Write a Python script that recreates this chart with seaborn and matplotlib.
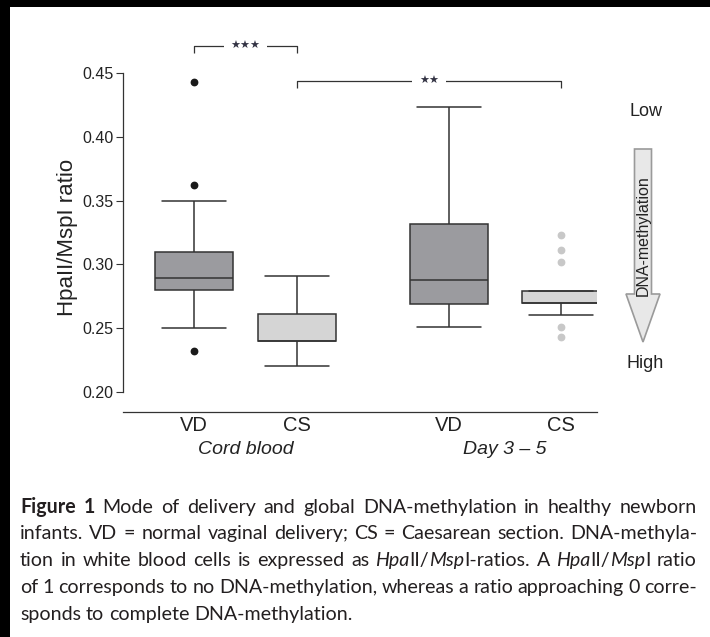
import re
import numpy as np
import pandas as pd
import matplotlib
matplotlib.use("Agg")
import matplotlib.pyplot as plt
import matplotlib.patches as mpatches
from matplotlib.transforms import IdentityTransform
import seaborn as sns

# ---------------- data ----------------
delivery = ["VD", "CS", "VD", "CS"]
timepoint = ["Cord blood", "Cord blood", "Day 3 \u2013 5", "Day 3 \u2013 5"]
cord_vd = [0.2324, 0.250, 0.270, 0.280, 0.283, 0.286, 0.289, 0.295, 0.300, 0.310, 0.350, 0.362, 0.4427]
cord_cs = [0.220, 0.230, 0.240, 0.240, 0.240, 0.250, 0.261, 0.275, 0.291]
day_vd = [0.2507, 0.260, 0.2692, 0.278, 0.2878, 0.300, 0.332, 0.380, 0.4236]
day_cs = [0.2429, 0.2512, 0.2603, 0.2695, 0.2695, 0.2695, 0.2695, 0.272, 0.276, 0.2794, 0.3019, 0.311, 0.323]
positions = [1.0, 2.0, 3.476, 4.563]
yticks = [0.20, 0.25, 0.30, 0.35, 0.40, 0.45]
brackets = [("\u2605\u2605\u2605", 0, 1, 0.4712), ("\u2605\u2605", 1, 3, 0.4437)]
ylabel = "HpaII/MspI ratio"
arrow_top, arrow_bottom, arrow_text = "Low", "High", "DNA-methylation"
caption_lines = [
    "**Figure 1** Mode of delivery and global DNA-methylation in healthy newborn",
    "infants. VD = normal vaginal delivery; CS = Caesarean section. DNA-methyla-",
    "tion in white blood cells is expressed as *Hpa*II/*Msp*I-ratios. A *Hpa*II/*Msp*I ratio",
    "of 1 corresponds to no DNA-methylation, whereas a ratio approaching 0 corre-",
    "sponds to complete DNA-methylation.",
]

# ---------------- style ----------------
W, H = 710, 637
DARK_BOX = "#9b9b9f"
LIGHT_BOX = "#d5d5d5"
EDGE = "#333333"
TXT = "#222222"
box_colors = [DARK_BOX, LIGHT_BOX, DARK_BOX, LIGHT_BOX]
flier_colors = ["#1a1a1a", "#1a1a1a", "#1a1a1a", "#c8c8c8"]

sns.set_theme(style="white")
plt.rcParams["font.family"] = ["Liberation Sans", "DejaVu Sans"]
plt.rcParams["text.color"] = TXT

fig = plt.figure(figsize=(W / 100, H / 100), dpi=100)
fig.patch.set_facecolor("white")

def px(x, y):
    return x / W, (H - y) / H

ax_l, ax_r, ax_b, ax_t = 123, 597, 412, 25
ax = fig.add_axes([ax_l / W, (H - ax_b) / H, (ax_r - ax_l) / W, (ax_b - ax_t) / H])
ax.set_facecolor("none")

series = [cord_vd, cord_cs, day_vd, day_cs]
for vals, pos, col, fcol in zip(series, positions, box_colors, flier_colors):
    df = pd.DataFrame({"pos": [pos] * len(vals), "ratio": vals})
    sns.boxplot(data=df, x="pos", y="ratio", orient="x", native_scale=True,
                width=0.76, color=col, saturation=1, linecolor=EDGE, linewidth=1.1,
                fliersize=4.6, capwidths=0.63,
                flierprops=dict(marker="o", markerfacecolor=fcol, markeredgecolor=fcol),
                ax=ax)

# axes scale: 0.20 -> y=392px, 0.45 -> y=73px
ppu = (392 - 73) / 0.25
ax.set_ylim(0.20 - (ax_b - 392) / ppu, 0.45 + (73 - ax_t) / ppu)
xppu = 103.0
ax.set_xlim(1 - (194 - ax_l) / xppu, 1 + (ax_r - 194) / xppu)

for s in ["top", "right"]:
    ax.spines[s].set_visible(False)
ax.spines["left"].set_bounds(0.20, 0.45)
for s in ["left", "bottom"]:
    ax.spines[s].set_color(EDGE)
    ax.spines[s].set_linewidth(0.9)

ax.set_yticks(yticks)
ax.set_yticklabels([f"{v:.2f}" for v in yticks], fontsize=11.5, color=TXT)
ax.tick_params(axis="y", length=5, width=0.8, color=EDGE, pad=2, left=True)
ax.set_xticks(positions)
ax.set_xticklabels(delivery, fontsize=14.5, color=TXT)
ax.tick_params(axis="x", length=0, pad=2.8)
ax.set_xlabel("")
ax.set_ylabel(ylabel, fontsize=16, color=TXT)
ax.yaxis.label.set_verticalalignment("center")
ax.yaxis.set_label_coords((67 - ax_l) / (ax_r - ax_l), (ax_b - 237) / (ax_b - ax_t))
ax.grid(False)

# group labels
for name in dict.fromkeys(timepoint):
    xs = [p for p, t in zip(positions, timepoint) if t == name]
    ax.text(np.mean(xs), (ax_b - 450) / (ax_b - ax_t), name, transform=ax.get_xaxis_transform(),
            ha="center", va="center", fontsize=14, fontstyle="italic", color=TXT)

# significance brackets
drop = 7 / ppu
for label, i, j, yb in brackets:
    x1, x2 = positions[i], positions[j]
    ax.plot([x1, x1, x2, x2], [yb - drop, yb, yb, yb - drop], color=EDGE, lw=0.9,
            clip_on=False, solid_capstyle="butt")
    ax.text((x1 + x2) / 2, yb, label, ha="center", va="center", fontsize=8,
            family=["DejaVu Sans"], color="#333344", clip_on=False, zorder=5,
            bbox=dict(boxstyle="square,pad=0.6", fc="white", ec="none"))

# methylation arrow
arrow = mpatches.FancyArrow(643 / W, (H - 149) / H, 0, -(342 - 149) / H,
                            width=17 / W, head_width=34 / W, head_length=48 / H,
                            length_includes_head=True, transform=fig.transFigure,
                            fc="#e8e8e8", ec="#9a9a9a", lw=1.2)
fig.patches.append(arrow)
fig.text(*px(643, 236), arrow_text, rotation=90, ha="center", va="center",
         fontsize=11.5, color=TXT)
fig.text(*px(646, 111), arrow_top, ha="center", va="center", fontsize=13, color=TXT)
fig.text(*px(645, 364), arrow_bottom, ha="center", va="center", fontsize=13, color=TXT)

# black scan border
fig.patches.append(mpatches.Rectangle((0, 1 - 7 / H), 1, 7 / H, transform=fig.transFigure,
                                      fc="black", ec="none"))
fig.patches.append(mpatches.Rectangle((0, 0), 10 / W, 1, transform=fig.transFigure,
                                      fc="black", ec="none"))

# ---------------- justified caption ----------------
CAP_FONT = ["Lato", "DejaVu Sans"]
CAP_COL = "#231f20"

def parse_words(line):
    runs = []
    for part in re.split(r"(\*\*[^*]+\*\*|\*[^*]+\*)", line):
        if not part:
            continue
        if part.startswith("**"):
            runs.append((part[2:-2], "bold", "normal"))
        elif part.startswith("*"):
            runs.append((part[1:-1], "normal", "italic"))
        else:
            runs.append((part, "normal", "normal"))
    words = [[]]
    for txt, wt, st in runs:
        pieces = txt.split(" ")
        for k, p in enumerate(pieces):
            if k > 0:
                words.append([])
            if p:
                words[-1].append((p, wt, st))
    return [w for w in words if w]

renderer = fig.canvas.get_renderer()

def measure(txt, wt, st, size):
    t = fig.text(0, 0, txt, fontsize=size, fontweight=wt, fontstyle=st, family=CAP_FONT)
    w = t.get_window_extent(renderer).width
    t.remove()
    return w

def space_w(size):
    return measure("a a", "normal", "normal", size) - measure("aa", "normal", "normal", size)

def word_w(word, size):
    return sum(measure(t, wt, st, size) for t, wt, st in word)

parsed = [parse_words(l) for l in caption_lines]
# calibrate font size on the last (unjustified) line: 20px -> 352px
ref = 10.0
last_w = sum(word_w(w, ref) for w in parsed[-1]) + space_w(ref) * (len(parsed[-1]) - 1)
cap_size = ref * (352 - 20) / last_w

x0, x1 = 20, 697
baselines = [513, 539, 566, 593, 620]
for li, (words, yb) in enumerate(zip(parsed, baselines)):
    widths = [word_w(w, cap_size) for w in words]
    if li < len(parsed) - 1 and len(words) > 1:
        gap = (x1 - x0 - sum(widths)) / (len(words) - 1)
    else:
        gap = space_w(cap_size)
    x = x0
    for w, ww in zip(words, widths):
        xx = x
        for t, wt, st in w:
            fig.text(xx, H - yb, t, transform=IdentityTransform(), fontsize=cap_size,
                     fontweight=wt, fontstyle=st, family=CAP_FONT, color=CAP_COL,
                     ha="left", va="baseline")
            xx += measure(t, wt, st, cap_size)
        x += ww + gap

fig.savefig("out.png", dpi=100)
